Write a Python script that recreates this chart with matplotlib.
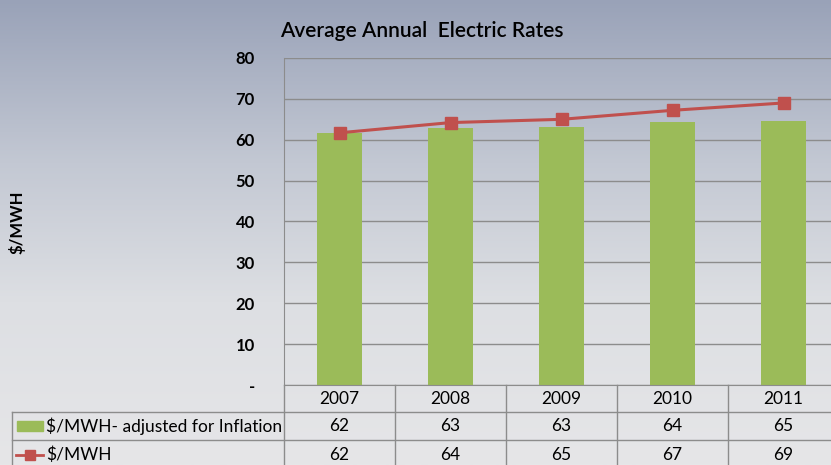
import numpy as np
import matplotlib
matplotlib.use("Agg")
import matplotlib.pyplot as plt
from matplotlib.colors import LinearSegmentedColormap
from matplotlib.transforms import blended_transform_factory

years = ["2007", "2008", "2009", "2010", "2011"]
adjusted = [61.6, 62.9, 63.0, 64.3, 64.7]
nominal = [61.7, 64.2, 65.0, 67.2, 69.0]
adjusted_label = "$/MWH- adjusted for Inflation"
nominal_label = "$/MWH"
yticks = [0, 10, 20, 30, 40, 50, 60, 70, 80]
ytick_labels = ["-", "10", "20", "30", "40", "50", "60", "70", "80"]

green = "#9BBB59"
red = "#C0504D"
grid = "#8C8C8C"
plt.rcParams["font.family"] = ["Lato", "DejaVu Sans"]

W, H = 831, 465
fig = plt.figure(figsize=(W / 100, H / 100), dpi=100)

# gradient background
bg = fig.add_axes([0, 0, 1, 1])
cmap = LinearSegmentedColormap.from_list(
    "bg", [(0, "#99A2B8"), (0.35, "#C3C8D3"), (0.65, "#DDDFE3"), (1, "#E6E6E8")])
bg.imshow(np.linspace(0, 1, 256).reshape(-1, 1), aspect="auto", cmap=cmap,
          extent=[0, 1, 0, 1], origin="upper")
bg.axis("off")

x0, x1, ytop, ybot = 284, 839, 58, 385
ax = fig.add_axes([x0 / W, 1 - ybot / H, (x1 - x0) / W, (ybot - ytop) / H])
ax.patch.set_alpha(0)
x = np.arange(len(years))
ax.bar(x, adjusted, width=0.4, color=green, zorder=2)
ax.plot(x, nominal, color=red, lw=2.2, marker="s", ms=8, zorder=3)
ax.set_xlim(-0.5, len(years) - 0.5)
ax.set_ylim(0, 80)
ax.set_yticks(yticks)
ax.set_yticklabels(ytick_labels, fontsize=12, fontweight="bold")
ax.tick_params(axis="y", length=0, pad=21)
ax.set_xticks([])
ax.yaxis.grid(True, color=grid, lw=1)
ax.set_axisbelow(True)
for s in ["top", "right"]:
    ax.spines[s].set_visible(False)
ax.spines["left"].set_color(grid)
ax.spines["bottom"].set_color(grid)
ax.set_title("Average Annual  Electric Rates", fontsize=15, fontweight="semibold",
             x=(422 - x0) / (x1 - x0), pad=15)
fig.text(17 / W, 1 - 222 / H, "$/MWH", rotation=90, fontsize=12,
         fontweight="bold", ha="center", va="center")

# data table under the plot
tr = blended_transform_factory(ax.transData, ax.transAxes)
ph = ybot - ytop
r0, r1, r2, r3 = 0, -27 / ph, -55 / ph, -84 / ph
left = -0.5 - (x0 - 12) / ((x1 - x0) / len(years))
lk = dict(color=grid, lw=1, transform=tr, clip_on=False)
for b in np.arange(-0.5, len(years), 1.0):
    ax.plot([b, b], [r0, r3], **lk)
ax.plot([left, left], [r1, r3], **lk)
for r in [r1, r2]:
    ax.plot([left, len(years)], [r, r], **lk)
for i, yr in enumerate(years):
    ax.text(i, (r0 + r1) / 2, yr, ha="center", va="center", fontsize=12.5, transform=tr)
    ax.text(i, (r1 + r2) / 2, f"{adjusted[i]:.0f}", ha="center", va="center",
            fontsize=12.5, transform=tr)
    ax.text(i, (r2 + r3) / 2, f"{nominal[i]:.0f}", ha="center", va="center",
            fontsize=12.5, transform=tr)

px = (x1 - x0) / len(years)
def fx(p):
    return -0.5 - (x0 - p) / px
ax.add_patch(plt.Rectangle((fx(17), (r1 + r2) / 2 - 5 / ph), 26 / px, 10 / ph,
                           color=green, transform=tr, clip_on=False))
ax.plot([fx(16), fx(43)], [(r2 + r3) / 2] * 2, color=red, lw=2,
        transform=tr, clip_on=False)
ax.plot([fx(29.5)], [(r2 + r3) / 2], marker="s", ms=7, color=red,
        transform=tr, clip_on=False)
ax.text(fx(46), (r1 + r2) / 2, adjusted_label, ha="left", va="center",
        fontsize=12.5, transform=tr)
ax.text(fx(46), (r2 + r3) / 2, nominal_label, ha="left", va="center",
        fontsize=12.5, transform=tr)

fig.savefig("out.png", dpi=100)
